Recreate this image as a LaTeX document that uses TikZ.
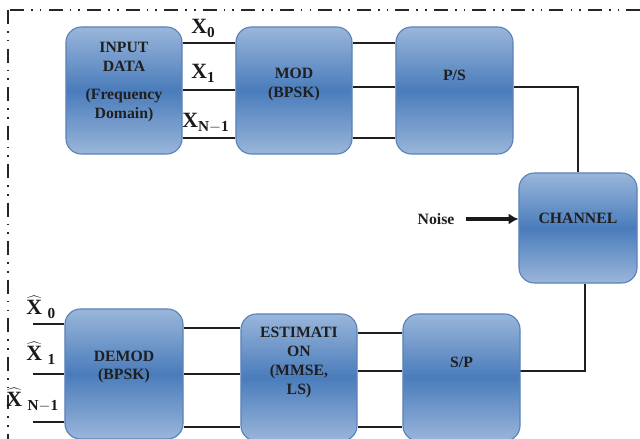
\documentclass[tikz,border=0pt]{standalone}
\usepackage{fontspec}
\setmainfont{Liberation Serif}
\usetikzlibrary{arrows.meta}
\definecolor{boxlight}{HTML}{9AB6DA}
\definecolor{boxdark}{HTML}{4A7CBB}
\definecolor{boxedge}{HTML}{5A82B8}
\tikzset{
	block/.style={draw=boxedge,line width=0.8pt,rounded corners=11pt,
		top color=boxlight,bottom color=boxlight,middle color=boxdark,
		minimum width=2.9cm,minimum height=3.175cm},
	blocktext/.style={font=\bfseries\fontsize{11.2}{13.5}\selectfont,
		align=center,text=black!88,inner sep=0pt},
	wire/.style={line width=2pt,black!88},
	frame/.style={line width=1pt,black!85,
		dash pattern=on 10pt off 5pt on 1.2pt off 5pt on 1.2pt off 5pt},
	sym/.style={font=\bfseries\fontsize{15.5}{15.5}\selectfont,inner sep=0pt,
		anchor=base west,text=black!90}
}
\begin{document}
\begin{tikzpicture}[x=0.025cm,y=-0.025cm]
		\useasboundingbox (0,0) rectangle (640,439);
		\draw[frame] (10,10) -- (640,10);
		\draw[frame] (8,10) -- (8,439);

		% transmitter
		\node[block] (inp) at (124,90.5) {};
		\node[blocktext] (inptxt) at ([yshift=6pt]inp.center)
			{INPUT\\DATA\\[6pt](Frequency\\Domain)};
		\node[block] (mod) at (294,90.5) {};
		\node[blocktext] (modtxt) at ([yshift=4pt]mod.center) {MOD\\(BPSK)};
		\node[block,minimum width=2.925cm] (ps) at (454.5,90.5) {};
		\node[blocktext] (pstxt) at ([yshift=11pt]ps.center) {P/S};

		\draw[wire] (inp.east |- 0,43) -- (mod.west |- 0,43);
		\draw[wire] (inp.east |- 0,90) -- (mod.west |- 0,90);
		\draw[wire] (inp.east |- 0,138) -- (mod.west |- 0,138);
		\draw[wire] (mod.east |- 0,43) -- (ps.west |- 0,43);
		\draw[wire] (mod.east |- 0,87) -- (ps.west |- 0,87);
		\draw[wire] (mod.east |- 0,138) -- (ps.west |- 0,138);

		\node[sym] (x0) at (191,34) {X\textsubscript{0}};
		\node[sym] (x1) at (191,79) {X\textsubscript{1}};
		\node[sym] (xn) at (182,128) {X$_{\mathbf{N-1}}$};

		% channel
		\node[block,minimum width=2.95cm,minimum height=2.75cm] (chan) at (578,228) {};
		\node[blocktext] (chantxt) at ([yshift=7pt]chan.center) {CHANNEL};
		\node[blocktext] (noise) at (436,219) {Noise};
		\draw[line width=2.8pt,black!90,-{Latex[length=7pt,width=8pt]}]
			(noise.east) ++(11,0) -- (chan.west |- noise.east);

		\draw[wire] (ps.east |- 0,87) -| (chan.north -| 578,0);
		\draw[wire] (chan.south -| 585,0) |- (0,371 -| 520,0);

		% receiver
		\node[block,minimum width=2.95cm,minimum height=3.25cm] (demod) at (124,374) {};
		\node[blocktext] (demodtxt) at ([yshift=5pt]demod.center) {DEMOD\\(BPSK)};
		\node[block] (est) at (299,377.5) {};
		\node[blocktext] (esttxt) at ([yshift=11pt]est.center)
			{ESTIMATI\\ON\\(MMSE,\\LS)};
		\node[block,minimum width=2.925cm] (sp) at (461.5,377.5) {};
		\node[blocktext] (sptxt) at ([yshift=11pt]sp.center) {S/P};

		\draw[wire] (sp.east |- 0,371) -- (585,371);
		\draw[wire] (est.east |- 0,333) -- (sp.west |- 0,333);
		\draw[wire] (est.east |- 0,371) -- (sp.west |- 0,371);
		\draw[wire] (est.east |- 0,427) -- (sp.west |- 0,427);
		\draw[wire] (demod.east |- 0,328) -- (est.west |- 0,328);
		\draw[wire] (demod.east |- 0,374) -- (est.west |- 0,374);
		\draw[wire] (demod.east |- 0,427) -- (est.west |- 0,427);

		\coordinate (o0) at (33,324);
		\coordinate (o1) at (33,374);
		\coordinate (on) at (33,422);
		\draw[wire] (o0) -- (demod.west |- o0);
		\draw[wire] (o1) -- (demod.west |- o1);
		\draw[wire] (on) -- (demod.west |- on);

		\node[sym] (y0) at (26,315) {$\widehat{\mbox{X}}$\hspace{4pt}\textsubscript{0}};
		\node[sym] (y1) at (26,361) {$\widehat{\mbox{X}}$\hspace{4pt}\textsubscript{1}};
		\node[sym] (yn) at (6,407) {$\widehat{\mbox{X}}$\hspace{4pt}$_{\mathbf{N-1}}$};
	\end{tikzpicture}
\end{document}
